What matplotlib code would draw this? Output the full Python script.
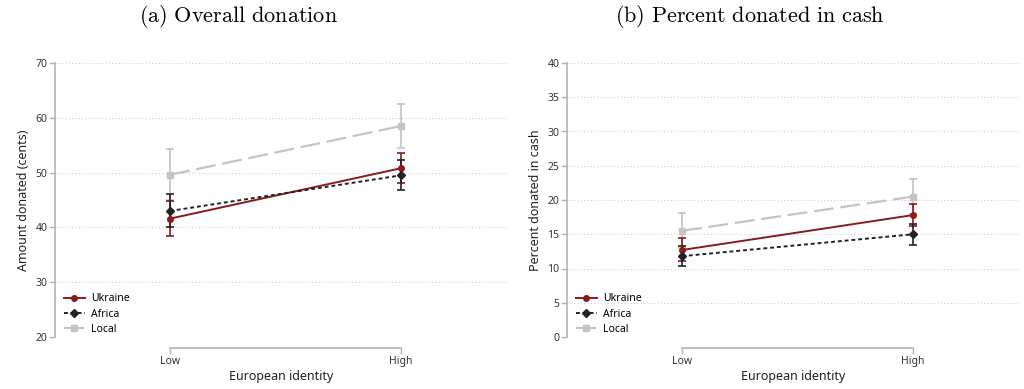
# Two-panel figure: donations by European identity (low vs high)
import numpy as np
import matplotlib.pyplot as plt

plt.rcParams['font.family'] = ['Noto Sans', 'DejaVu Sans']
plt.rcParams['mathtext.fontset'] = 'cm'

groups = ['Low', 'High']
series = ['Ukraine', 'Africa', 'Local']

# panel (a): overall donation in cents (mean, lower CI, upper CI)
amount_mean = {'Ukraine': [41.6, 50.8], 'Africa': [43.0, 49.5], 'Local': [49.6, 58.5]}
amount_lo = {'Ukraine': [38.4, 48.1], 'Africa': [40.0, 46.8], 'Local': [45.0, 54.4]}
amount_hi = {'Ukraine': [44.8, 53.6], 'Africa': [46.1, 52.3], 'Local': [54.3, 62.6]}

# panel (b): percent donated in cash
cash_mean = {'Ukraine': [12.7, 17.8], 'Africa': [11.8, 15.0], 'Local': [15.5, 20.5]}
cash_lo = {'Ukraine': [11.1, 16.2], 'Africa': [10.3, 13.5], 'Local': [13.0, 18.0]}
cash_hi = {'Ukraine': [14.4, 19.4], 'Africa': [13.3, 16.5], 'Local': [18.1, 23.0]}

styles = {
    'Ukraine': dict(color='#8b1a1a', ls='-', marker='o', lw=1.4),
    'Africa': dict(color='#222222', ls=(0, (2, 1.5)), marker='D', lw=1.4),
    'Local': dict(color='#c4c4c4', ls=(0, (9, 3)), marker='s', lw=1.6),
}
grey = '#b4b4b4'

fig = plt.figure(figsize=(10.24, 3.89), dpi=100)
ax_a = fig.add_axes([55 / 1024, 1 - 337 / 389, 453 / 1024, 274 / 389])
ax_b = fig.add_axes([567 / 1024, 1 - 337 / 389, 453 / 1024, 274 / 389])


def draw(ax, mean, lo, hi, ylim, yticks, ylabel):
    x = np.arange(len(groups))
    for s in ['Local', 'Ukraine', 'Africa']:
        st = styles[s]
        m = np.array(mean[s])
        err = [m - np.array(lo[s]), np.array(hi[s]) - m]
        ax.errorbar(x, m, yerr=err, fmt='none', ecolor=st['color'],
                    elinewidth=1.2, capsize=3, capthick=1.2, zorder=3)
        ax.plot(x, m, color=st['color'], ls=st['ls'], lw=st['lw'],
                marker=st['marker'], ms=4, zorder=4)
    handles = [plt.Line2D([], [], color=styles[s]['color'], ls=styles[s]['ls'],
                          lw=styles[s]['lw'], marker=styles[s]['marker'], ms=4)
               for s in series]
    ax.legend(handles, series, loc='lower left', bbox_to_anchor=(0.02, 0.007),
              borderaxespad=0, borderpad=0, frameon=False, fontsize=7.5,
              handlelength=2.0, labelspacing=0.42, handletextpad=0.6)
    ax.set_xlim(-0.498, 1.463)
    ax.set_ylim(*ylim)
    ax.set_yticks(yticks)
    ax.set_xticks(x)
    ax.set_xticklabels(groups)
    for t in yticks[1:]:
        ax.axhline(t, color='#d0d0d0', lw=0.8, ls=(0, (1, 2)), zorder=1)
    for side in ['top', 'right']:
        ax.spines[side].set_visible(False)
    ax.spines['left'].set_color(grey)
    ax.spines['bottom'].set_color(grey)
    ax.spines['left'].set_linewidth(1.2)
    ax.spines['bottom'].set_linewidth(1.2)
    ax.spines['bottom'].set_position(('outward', 8))
    ax.spines['bottom'].set_bounds(0, 1)
    ax.tick_params(colors=grey, labelcolor='#333333', labelsize=7.5, length=4,
                   width=1, pad=1.5)
    ax.set_ylabel(ylabel, fontsize=9, color='#222222', labelpad=4)
    ax.set_xlabel('European identity', fontsize=9, color='#222222', labelpad=2)


draw(ax_a, amount_mean, amount_lo, amount_hi, (20, 70), [20, 30, 40, 50, 60, 70],
     'Amount donated (cents)')
draw(ax_b, cash_mean, cash_lo, cash_hi, (0, 40), [0, 5, 10, 15, 20, 25, 30, 35, 40],
     'Percent donated in cash')

fig.text(238 / 1024, 1 - 17 / 389, r'$\mathrm{(a)\ Overall\ donation}$',
         ha='center', va='center', fontsize=16)
fig.text(750 / 1024, 1 - 17 / 389, r'$\mathrm{(b)\ Percent\ donated\ in\ cash}$',
         ha='center', va='center', fontsize=16)

fig.savefig('out.png', dpi=100)
